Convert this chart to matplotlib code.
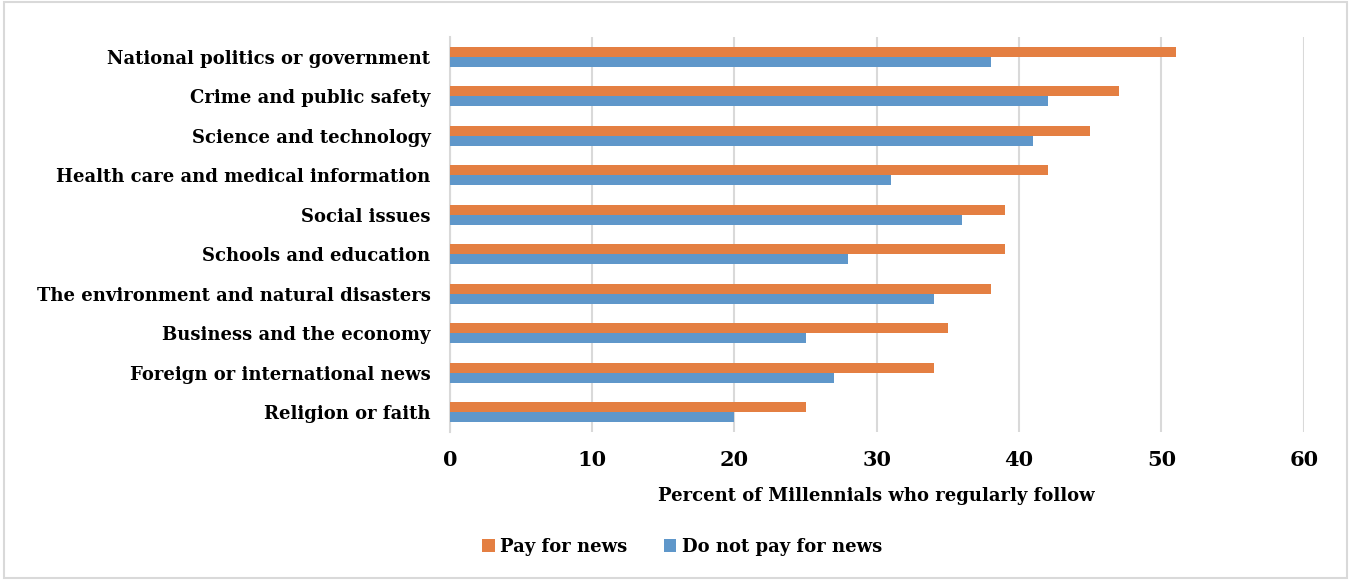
import matplotlib
matplotlib.use("Agg")
import matplotlib.pyplot as plt
import numpy as np

CATEGORIES = ["National politics or government", "Crime and public safety",
              "Science and technology", "Health care and medical information",
              "Social issues", "Schools and education",
              "The environment and natural disasters", "Business and the economy",
              "Foreign or international news", "Religion or faith"]
PAY = [51, 47, 45, 42, 39, 39, 38, 35, 34, 25]
NO_PAY = [38, 42, 41, 31, 36, 28, 34, 25, 27, 20]
TICKS = [0, 10, 20, 30, 40, 50, 60]

ORANGE = "#E47F42"
BLUE = "#5F97CA"

fig = plt.figure(figsize=(13.51, 5.8), dpi=100)
ax = fig.add_axes([0.333, 0.255, 0.632, 0.681])

y = np.arange(len(CATEGORIES))
h = 0.25
ax.barh(y - h / 2, PAY, height=h, color=ORANGE, label="Pay for news", zorder=3)
ax.barh(y + h / 2, NO_PAY, height=h, color=BLUE, label="Do not pay for news", zorder=3)

ax.set_ylim(len(CATEGORIES) - 0.5, -0.5)
ax.set_xlim(0, 60)
ax.set_xticks(TICKS)
ax.set_xticklabels([str(t) for t in TICKS], fontfamily="DejaVu Serif",
                   fontweight="bold", fontsize=15)
ax.set_yticks(y)
ax.set_yticklabels(CATEGORIES, fontfamily="DejaVu Serif", fontweight="bold",
                   fontsize=13)
ax.tick_params(length=0, pad=14, axis="y")
ax.tick_params(length=0, pad=13, axis="x")

ax.grid(axis="x", color="#D9D9D9", linewidth=1.5, zorder=0)
for s in ["top", "right", "bottom"]:
    ax.spines[s].set_visible(False)
ax.spines["left"].set_color("#D9D9D9")
ax.spines["left"].set_linewidth(1.5)

ax.set_xlabel("Percent of Millennials who regularly follow", fontfamily="DejaVu Serif",
              fontweight="bold", fontsize=13, labelpad=12)

fig.legend(loc="center", bbox_to_anchor=(0.505, 0.057), ncol=2, frameon=False,
           prop={"family": "DejaVu Serif", "weight": "bold", "size": 13},
           handlelength=0.7, handleheight=0.7, handletextpad=0.3, columnspacing=2.0)

fig.patches.append(plt.Rectangle((0.003, 0.003), 0.994, 0.994, transform=fig.transFigure,
                                 fill=False, edgecolor="#D9D9D9", linewidth=1.5))

fig.savefig("out.png", dpi=100)
